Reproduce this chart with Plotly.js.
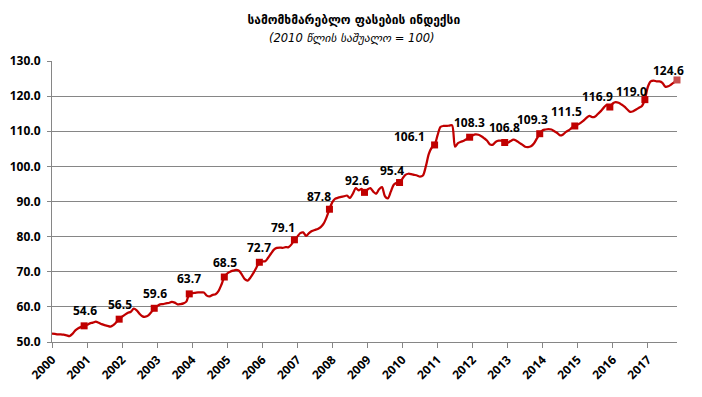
<!DOCTYPE html>
<html>
<head>
<meta charset="utf-8">
<script src="https://cdn.plot.ly/plotly-3.0.1.min.js"></script>
<style>
html,body{margin:0;padding:0;background:#fff;}
#chart{width:702px;height:397px;}
</style>
</head>
<body>
<div id="chart"></div>
<script>
// Monthly CPI, Jan 2000 – Nov 2017 (2010 average = 100)
const cpi2000 = [52.4, 52.3, 52.2, 52.2, 52.1, 51.9, 51.7, 52.3, 53.3, 53.9, 54.3, 54.6];
const cpi2001 = [54.9, 55.3, 55.5, 55.8, 55.5, 55.1, 54.8, 54.6, 54.4, 54.8, 55.6, 56.5];
const cpi2002 = [57.2, 57.8, 58.3, 58.6, 59.5, 59.0, 58.0, 57.3, 57.2, 57.6, 58.5, 59.6];
const cpi2003 = [60.2, 60.7, 60.8, 61.0, 61.1, 61.4, 61.2, 60.7, 60.8, 61.0, 61.5, 63.7];
const cpi2004 = [63.9, 64.0, 64.1, 64.1, 64.1, 63.2, 63.0, 63.4, 63.6, 64.5, 66.3, 68.5];
const cpi2005 = [69.5, 70.0, 70.3, 70.5, 70.3, 69.2, 67.9, 67.5, 68.4, 69.7, 71.2, 72.7];
const cpi2006 = [72.9, 73.0, 74.0, 75.2, 76.3, 76.8, 76.9, 76.8, 77.0, 77.0, 77.8, 79.1];
const cpi2007 = [80.0, 81.0, 81.2, 80.2, 81.0, 81.6, 81.9, 82.2, 82.7, 83.7, 85.5, 87.8];
const cpi2008 = [89.8, 90.8, 91.1, 91.3, 91.5, 91.7, 91.0, 92.2, 93.8, 93.2, 93.6, 92.6];
const cpi2009 = [93.4, 93.8, 92.8, 92.2, 93.5, 94.1, 91.5, 90.9, 92.8, 94.8, 95.3, 95.4];
const cpi2010 = [96.5, 97.6, 97.9, 97.8, 97.6, 97.4, 97.1, 97.4, 100.0, 103.5, 105.3, 106.1];
const cpi2011 = [108.8, 111.2, 111.5, 111.5, 111.6, 111.7, 105.6, 106.6, 107.0, 107.3, 107.8, 108.3];
const cpi2012 = [108.8, 109.1, 109.0, 108.6, 108.0, 107.3, 106.2, 106.2, 107.0, 107.3, 107.3, 106.8];
const cpi2013 = [106.7, 107.2, 107.6, 107.3, 106.7, 106.2, 105.6, 105.5, 105.7, 106.5, 107.9, 109.3];
const cpi2014 = [110.3, 110.5, 110.6, 110.5, 110.0, 109.5, 108.8, 109.1, 109.8, 110.3, 111.0, 111.5];
const cpi2015 = [111.9, 112.4, 113.0, 113.8, 114.4, 114.0, 114.2, 115.0, 115.8, 116.8, 117.5, 116.9];
const cpi2016 = [117.9, 118.3, 118.1, 117.6, 117.0, 116.2, 115.5, 115.7, 116.2, 116.7, 117.2, 119.0];
const cpi2017 = [122.6, 124.2, 124.4, 124.2, 124.2, 123.8, 122.7, 122.8, 123.3, 123.9, 124.6];

const yearLabels = ["2000","2001","2002","2003","2004","2005","2006","2007","2008",
  "2009","2010","2011","2012","2013","2014","2015","2016","2017"];

const titleText = "სამომხმარებლო ფასების ინდექსი";
const subtitleText = "(2010 წლის საშუალო = 100)";

// label offsets (px) for the value labels: [dx, dy-up]
const labelOffsets = [[1,15],[1,15],[1,15],[0,15],[1,15],[0,15],[-11,12],[-10,13],[-8,12],
  [-8,12],[-25,8],[0,15],[0,15],[-7,14],[-8,14],[-12,11],[-13,8],[-9,9]];

const series = [].concat(cpi2000,cpi2001,cpi2002,cpi2003,cpi2004,cpi2005,cpi2006,cpi2007,
  cpi2008,cpi2009,cpi2010,cpi2011,cpi2012,cpi2013,cpi2014,cpi2015,cpi2016,cpi2017);
const xIdx = series.map((v,i)=>i);
const last = series.length-1;

// marker points: every December + the last observation
const mX = [], mY = [];
for (let i=11;i<=last;i+=12){ mX.push(i); mY.push(series[i]); }
if (mX[mX.length-1]!==last){ mX.push(last); mY.push(series[last]); }
const mColors = mX.map((x,i)=> i===mX.length-1 ? '#C9504F' : '#C00000');

const numFont = {family:'"Open Sans", "Noto Sans", sans-serif', size:12, color:'#000', weight:'bold'};

const annotations = mX.map((x,i)=>({
  x:x, y:mY[i], xref:'x', yref:'y', text:mY[i].toFixed(1), showarrow:false,
  xanchor:'center', yanchor:'middle', xshift:labelOffsets[i][0], yshift:labelOffsets[i][1],
  font:numFont
}));
annotations.push({
  xref:'paper', yref:'paper', x:(352-52)/625, y:(342-38)/281, xanchor:'center', yanchor:'middle',
  text:subtitleText, showarrow:false,
  font:{family:'"DejaVu Sans", sans-serif', size:11.5, style:'italic', color:'#000'}
});

const traces = [
  {x:xIdx, y:series, type:'scatter', mode:'lines', cliponaxis:false,
   line:{color:'#C00000', width:2.25, shape:'spline', smoothing:0.8}, hoverinfo:'skip'},
  {x:mX, y:mY, type:'scatter', mode:'markers', cliponaxis:false,
   marker:{symbol:'square', size:7, color:mColors, line:{width:0}}, hoverinfo:'skip'}
];

const layout = {
  width:702, height:397,
  margin:{l:52, r:25, t:61, b:55},
  paper_bgcolor:'#fff', plot_bgcolor:'#fff',
  showlegend:false,
  title:{text:'<b>'+titleText+'</b>', xref:'container', x:0.504, yref:'container', y:1-20/397,
         xanchor:'center', yanchor:'middle',
         font:{family:'"DejaVu Sans", sans-serif', size:12, color:'#000'}},
  xaxis:{range:[0,last], tickmode:'array',
    tickvals:yearLabels.map((y,i)=>i*12), ticktext:yearLabels,
    tickangle:-45, ticks:'outside', ticklen:5, tickcolor:'#868686', tickwidth:1,
    showgrid:false, zeroline:false, showline:true, linecolor:'#868686', linewidth:1,
    tickfont:numFont},
  yaxis:{range:[50,130], dtick:10, tick0:50, tickformat:'.1f',
    ticks:'outside', ticklen:4, tickcolor:'#868686', tickwidth:1, ticklabelstandoff:4,
    showgrid:true, gridcolor:'#868686', gridwidth:1, zeroline:false,
    showline:true, linecolor:'#868686', linewidth:1, tickfont:numFont},
  annotations:annotations
};

Plotly.newPlot('chart', traces, layout, {displayModeBar:false, staticPlot:true});
</script>
</body>
</html>
